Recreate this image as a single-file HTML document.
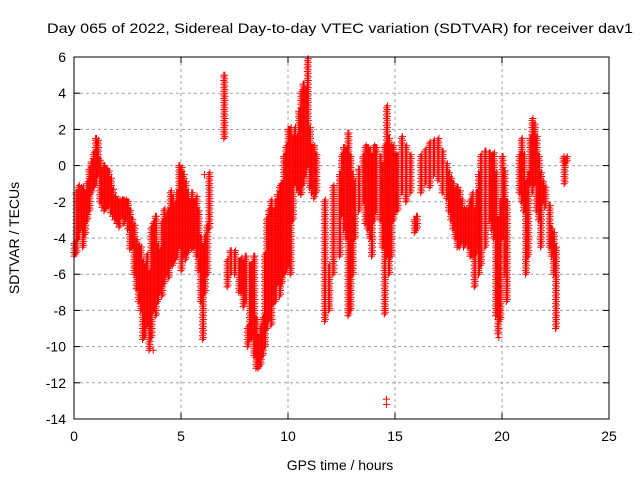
<!DOCTYPE html>
<html><head><meta charset="utf-8"><style>
html,body{margin:0;padding:0;background:#fff;}
svg{display:block;font-family:"Liberation Sans",sans-serif;}
</style></head><body>
<svg id="chart" width="640" height="480" viewBox="0 0 640 480">
<rect width="640" height="480" fill="#fff"/>
<g id="grid"></g>
<g id="axes"></g>
<path id="marks" fill="none" stroke="#ff0000" stroke-width="1"/>
<rect x="74" y="57" width="535" height="362" fill="none" stroke="#000" stroke-width="1"/>
<text x="340" y="33" text-anchor="middle" font-size="14" textLength="586" lengthAdjust="spacingAndGlyphs">Day 065 of 2022, Sidereal Day-to-day VTEC variation (SDTVAR) for receiver dav1</text>
<text x="340" y="470" text-anchor="middle" font-size="14">GPS time / hours</text>
<text transform="translate(19,238) rotate(-90)" text-anchor="middle" font-size="14">SDTVAR / TECUs</text>
</svg>
<script>
const xTicks=[0,5,10,15,20,25];
const yTicks=[6,4,2,0,-2,-4,-6,-8,-10,-12,-14];
const colTimes=[0,0.1,0.2,0.3,0.4,0.5,0.6,0.7,0.8,0.9,1.0,1.1,1.2,1.3,1.4,1.5,1.6,1.7,1.8,1.9,2.0,2.1,2.2,2.3,2.4,2.5,2.6,2.7,2.8,2.9,3.0,3.1,3.2,3.3,3.4,3.5,3.6,3.7,3.8,3.9,4.0,4.1,4.2,4.3,4.4,4.5,4.6,4.7,4.8,4.9,5.0,5.1,5.2,5.3,5.4,5.5,5.6,5.7,5.8,5.9,6.0,6.1,6.2,6.3,7.0,7.15,7.3,7.5,7.7,7.8,7.9,8.0,8.1,8.2,8.3,8.4,8.5,8.6,8.7,8.8,8.9,9.0,9.1,9.2,9.3,9.4,9.5,9.6,9.7,9.8,9.9,10.0,10.1,10.2,10.3,10.4,10.5,10.6,10.7,10.8,10.9,11.0,11.1,11.2,11.3,11.7,11.9,12.1,12.4,12.5,12.6,12.7,12.8,12.9,13.0,13.1,13.3,13.5,13.6,13.7,13.8,13.9,14.0,14.1,14.3,14.4,14.5,14.6,14.7,14.8,14.9,15.0,15.1,15.3,15.5,15.7,15.9,16.0,16.2,16.4,16.6,16.8,17.0,17.2,17.4,17.5,17.6,17.7,17.8,17.9,18.0,18.1,18.2,18.3,18.4,18.5,18.6,18.7,18.8,18.9,19.0,19.2,19.4,19.5,19.6,19.7,19.8,19.9,20.0,20.1,20.2,20.8,20.9,21.0,21.1,21.2,21.3,21.4,21.5,21.6,21.7,21.8,21.9,22.0,22.2,22.3,22.4,22.5,22.85,22.9,23.0];
const colLow=[-5,-4.8,-4,-3.5,-4.5,-3.8,-3,-2.5,-1.5,-1.2,-1,-0.5,-2,-2.3,-2.5,-2.3,-2.2,-2.6,-2.8,-3,-3.2,-3.4,-2.8,-3.2,-3,-3.5,-4.6,-4.5,-6,-6.8,-7.5,-8,-9.6,-9.4,-8.8,-10.2,-9.5,-8,-8.3,-7.5,-7,-7.2,-6.5,-6,-6.2,-5.5,-5.5,-5.2,-5,-4.5,-5.8,-5,-5.2,-4.8,-4.5,-4.6,-4.5,-5,-5.8,-7.5,-9.6,-7,-6,-3.5,1.5,-6.7,-6,-6,-7,-7,-7.8,-7.5,-10,-9.6,-9.5,-10.5,-11.2,-11.2,-11,-10.5,-10,-9,-8.5,-8.8,-7.6,-7.5,-6.5,-7.2,-6.5,-6,-5.8,-5.5,-6,-3,-1,-1.3,-1.5,-1.6,-1,-0.5,0,-1.2,-1.5,-1.8,-1.5,-8.6,-8,-6,-5,-2.7,-3.5,-4,-8.3,-8,-6,-4,-2.5,-2,-3.2,-3.5,-4,-5,-3,-2.5,-3,-4.5,-8.2,-5,-6,-5,-3,-2.5,-2.5,-1.5,-2,-1.5,-3.7,-3.5,-1.5,-1,-1.2,-0.5,-0.8,-1.5,-1.8,-2.5,-3,-3.5,-4,-4.5,-4.5,-4.2,-4.5,-4.3,-4.5,-5,-5,-6.7,-4.8,-6,-5.5,-4.5,-3,-3.5,-4,-8.3,-9.3,-8.5,-4,-6,-7.5,-1.5,-2,-2.5,-6,-5,-1,-1.5,-1,-2.5,-3,-4.5,-2,-2.3,-4.5,-5,-6,-9,0.2,-1,0.2];
const colHigh=[-4.3,-1.5,-1.2,-1.3,-1.3,-1.5,-1,-0.2,0.2,0.6,1.5,1.3,0.3,-0.3,0,-0.2,-0.3,-0.8,-1.4,-1.8,-1.9,-2,-2,-1.9,-2,-2,-2.5,-3,-3.4,-4.2,-4.5,-4.6,-5.4,-5.6,-5,-6,-3.5,-3.2,-2.8,-4.5,-4.8,-3.2,-2.5,-2.8,-2.5,-1.5,-1.8,-2.2,-1.5,0,-0.2,-0.5,-1,-1.5,-2,-1.5,-2,-1.8,-2.5,-4,-4.5,-4,-3.4,-0.5,5,-5.3,-4.7,-4.8,-5.3,-5.2,-5.4,-5,-9,-5.5,-5.5,-5,-8.5,-9.5,-9,-8.5,-5,-3,-2.5,-2,-2.5,-2,-1.6,-1.2,-1,0.5,1,2,2,1.5,2,1.5,3,4,4.5,4.2,5.8,2,1,1,0.5,-2,-5.6,-1.2,-0.5,0.5,1,0.8,1.8,0.5,-0.5,-1,-0.2,0.5,1,1,0.8,0.5,1,1,0.5,0,1,3.2,1.5,1,1,0.5,0.5,1.5,1,0.5,-3,-2.8,0.5,0.8,1.2,1.3,1.4,0.8,0,-0.5,-0.8,-1,-1.4,-1.2,-1.5,-2,-2.5,-2.5,-2.5,-2,-1.6,-2.5,-1.5,-0.5,0.5,0.8,0.7,0.5,0.6,-0.5,-3,-2,0.5,-0.3,-2,0.5,1.4,0.5,-1,-0.5,1.5,2.5,2.2,1.5,0.5,-0.5,-1,-1.3,-2.2,-3.5,-3.8,-4.5,0.4,0.3,0.4];
const extraTimes=[14.6,14.6,3.7,6.1,19.85];
const extraValues=[-13.2,-12.9,-10.2,-0.5,-9.5];

const X0=74,X1=609,Y0=57,Y1=419,XMIN=0,XMAX=25,YMIN=-14,YMAX=6;
function xs(t){return X0+(t-XMIN)/(XMAX-XMIN)*(X1-X0);}
function ys(v){return Y1-(v-YMIN)/(YMAX-YMIN)*(Y1-Y0);}
const NS="http://www.w3.org/2000/svg";
const grid=document.getElementById('grid'),axes=document.getElementById('axes');
function mk(tag,attrs,parent){const e=document.createElementNS(NS,tag);for(const k in attrs)e.setAttribute(k,attrs[k]);parent.appendChild(e);return e;}
xTicks.forEach(t=>{
  const x=xs(t);
  if(t>XMIN&&t<XMAX){const g=mk('line',{x1:x,x2:x,y1:Y0,y2:Y1,stroke:'#a0a0a0','stroke-dasharray':'3,3'},grid);
  
  }
  mk('line',{x1:x,x2:x,y1:Y1,y2:Y1-6,stroke:'#000'},axes);
  mk('line',{x1:x,x2:x,y1:Y0,y2:Y0+6,stroke:'#000'},axes);
  const l=mk('text',{x:x,y:Y1+22,'text-anchor':'middle','font-size':'14'},axes);
  l.textContent=t;
  
  
});
yTicks.forEach(v=>{
  const y=ys(v);
  if(v>YMIN&&v<YMAX){const g=mk('line',{x1:X0,x2:X1,y1:y,y2:y,stroke:'#a0a0a0','stroke-dasharray':'3,3'},grid);
  
  }
  mk('line',{x1:X0,x2:X0+6,y1:y,y2:y,stroke:'#000'},axes);
  mk('line',{x1:X1,x2:X1-6,y1:y,y2:y,stroke:'#000'},axes);
  const l=mk('text',{x:X0-8,y:y+5,'text-anchor':'end','font-size':'14'},axes);
  l.textContent=v;
  
  
});
let d='';
function plus(t,v){const x=xs(t),y=ys(v);d+='M'+(x-3.5).toFixed(1)+' '+y.toFixed(1)+'h7M'+x.toFixed(1)+' '+(y-3.5).toFixed(1)+'v7';}
for(let i=0;i<colTimes.length;i++){
  const lo=colLow[i],hi=colHigh[i];
  for(let v=lo;v<=hi+1e-6;v+=0.2){plus(colTimes[i],v);plus(colTimes[i]+0.05,v+0.1);}
  plus(colTimes[i],hi);
}
for(let i=0;i<extraTimes.length;i++)plus(extraTimes[i],extraValues[i]);
document.getElementById('marks').setAttribute('d',d);
</script>
</body></html>
